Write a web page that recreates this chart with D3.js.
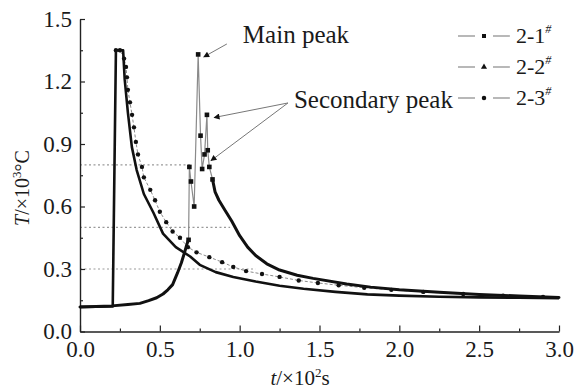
<!DOCTYPE html>
<html>
<head>
<meta charset="utf-8">
<script src="https://cdn.jsdelivr.net/npm/d3@7"></script>
<style>
  body { margin: 0; background: #fff; }
  svg text { font-family: "Liberation Serif", "Times New Roman", serif; fill: #1a1a1a; }
</style>
</head>
<body>
<div id="chart"></div>
<script>
// tick values
const xTicks = [0, 0.5, 1.0, 1.5, 2.0, 2.5, 3.0];
const xMinor = [0.25, 0.75, 1.25, 1.75, 2.25, 2.75];
const yTicks = [0, 0.3, 0.6, 0.9, 1.2, 1.5];
const yMinor = [0.15, 0.45, 0.75, 1.05, 1.35];

// series 2-1# (delayed heating): slow rise, spikes, decay  [t, T]
const rise21 = [[0, 0.118], [0.1, 0.12], [0.2, 0.123], [0.3, 0.13], [0.375, 0.135], [0.43, 0.148],
  [0.48, 0.162], [0.52, 0.18], [0.55, 0.2], [0.58, 0.225], [0.61, 0.28], [0.635, 0.33],
  [0.655, 0.38], [0.67, 0.42], [0.68, 0.44]];
const spike21 = [[0.68, 0.44], [0.685, 0.79], [0.695, 0.72], [0.715, 0.6], [0.74, 1.33],
  [0.755, 0.94], [0.765, 0.78], [0.78, 0.85], [0.795, 1.04], [0.8, 0.87], [0.81, 0.79], [0.83, 0.73]];
const decay21 = [[0.83, 0.73], [0.846, 0.67], [0.87, 0.63], [0.91, 0.58], [0.95, 0.53], [1.0, 0.46],
  [1.05, 0.405], [1.1, 0.365], [1.17, 0.325], [1.25, 0.295], [1.36, 0.27], [1.46, 0.255],
  [1.67, 0.228], [1.82, 0.213], [2.0, 0.2], [2.25, 0.188], [2.5, 0.178], [2.75, 0.17], [3.0, 0.163]];

// series 2-2# (fast decay)
const s22 = [[0, 0.118], [0.1, 0.119], [0.2, 0.12], [0.205, 0.12], [0.225, 1.35], [0.27, 1.35],
  [0.28, 1.21], [0.30, 1.05], [0.325, 0.885], [0.355, 0.775], [0.40, 0.66], [0.46, 0.57],
  [0.52, 0.47], [0.60, 0.405], [0.69, 0.36], [0.75, 0.32], [0.85, 0.285], [0.96, 0.262],
  [1.1, 0.24], [1.25, 0.22], [1.4, 0.205], [1.6, 0.19], [1.8, 0.178], [2.0, 0.172],
  [2.25, 0.167], [2.5, 0.164], [2.75, 0.162], [3.0, 0.16]];

// series 2-3# (slower decay, circles)
const s23 = [[0.225, 1.35], [0.25, 1.35], [0.276, 1.31], [0.288, 1.27], [0.294, 1.22], [0.30, 1.16],
  [0.313, 1.10], [0.326, 1.04], [0.338, 0.98], [0.35, 0.91], [0.363, 0.85], [0.388, 0.79],
  [0.40, 0.74], [0.44, 0.68], [0.47, 0.63], [0.5, 0.575], [0.54, 0.525], [0.58, 0.48],
  [0.626, 0.45], [0.676, 0.405], [0.73, 0.38], [0.81, 0.357], [0.89, 0.333], [0.96, 0.31],
  [1.04, 0.29], [1.14, 0.276], [1.25, 0.262], [1.37, 0.245], [1.49, 0.233], [1.62, 0.222],
  [1.78, 0.21], [1.95, 0.2], [2.15, 0.19], [2.4, 0.18], [2.65, 0.172], [2.9, 0.166]];

// dotted reference levels and where they stop
const refLevels = [0.8, 0.5, 0.3];
const refEnds = [0.69, 0.94, 1.1];

const legendNames = ["2-1", "2-2", "2-3"];
const legendMarks = ["square", "triangle", "circle"];

// annotations in data units: label position, arrow tips
const mainLabel = { t: 1.02, T: 1.385, text: "Main peak" };
const mainTip = [0.775, 1.318];
const secLabel = { t: 1.34, T: 1.073, text: "Secondary peak" };
const secTips = [[0.84, 1.027], [0.82, 0.82]];

const FONT = "'Liberation Serif', 'Times New Roman', serif";
const W = 576, H = 389;
const svg = d3.select("#chart").append("svg")
  .attr("width", W).attr("height", H)
  .style("font-family", FONT);

const x = d3.scaleLinear().domain([0, 3]).range([80, 559]);
const y = d3.scaleLinear().domain([0, 1.5]).range([331.5, 19]);

const line = d3.line().x(d => x(d[0])).y(d => y(d[1]));

// reference dotted lines
svg.selectAll(".ref")
  .data(refLevels)
  .enter().append("line")
  .attr("x1", x(0)).attr("x2", (d, i) => x(refEnds[i]))
  .attr("y1", d => y(d)).attr("y2", d => y(d))
  .attr("stroke", "#9a9a9a").attr("stroke-width", 1.2)
  .attr("stroke-dasharray", "2,2.5");

// axes
const fmt = d3.format(".1f");
svg.append("g")
  .attr("transform", `translate(0,${y(0)})`)
  .call(d3.axisBottom(x).tickValues(xTicks).tickFormat(fmt).tickSize(-6).tickSizeOuter(0).tickPadding(9));
svg.append("g")
  .attr("transform", `translate(0,${y(0)})`)
  .call(d3.axisBottom(x).tickValues(xMinor).tickFormat("").tickSize(-3).tickSizeOuter(0))
  .select(".domain").remove();
svg.append("g")
  .attr("transform", `translate(${x(0)},0)`)
  .call(d3.axisLeft(y).tickValues(yTicks).tickFormat(fmt).tickSize(-5).tickSizeOuter(0).tickPadding(8));
svg.append("g")
  .attr("transform", `translate(${x(0)},0)`)
  .call(d3.axisLeft(y).tickValues(yMinor).tickFormat("").tickSize(-3).tickSizeOuter(0))
  .select(".domain").remove();

svg.selectAll("g").attr("font-family", FONT);
svg.selectAll(".domain").attr("stroke", "#222").attr("stroke-width", 1.4);
svg.selectAll(".tick line").attr("stroke", "#222").attr("stroke-width", 1.2);
svg.selectAll(".tick text")
  .style("font-size", "23px")
  .attr("fill", "#1a1a1a");

// series 2-3#: dashed gray line with circles
svg.append("path")
  .datum(s23)
  .attr("d", line)
  .attr("fill", "none").attr("stroke", "#8a8a8a").attr("stroke-width", 1)
  .attr("stroke-dasharray", "3,2");
svg.selectAll(".c23")
  .data(s23)
  .enter().append("circle")
  .attr("cx", d => x(d[0])).attr("cy", d => y(d[1]))
  .attr("r", 2.2).attr("fill", "#111");

// series 2-2#: thick black
svg.append("path")
  .datum(s22)
  .attr("d", line)
  .attr("fill", "none").attr("stroke", "#111").attr("stroke-width", 2.6)
  .attr("stroke-linejoin", "round");

// series 2-1#: thick rise/decay, thin spikes with squares
svg.append("path")
  .datum(spike21)
  .attr("d", line)
  .attr("fill", "none").attr("stroke", "#8a8a8a").attr("stroke-width", 1.2);
[rise21, decay21].forEach(seg => {
  svg.append("path")
    .datum(seg)
    .attr("d", line)
    .attr("fill", "none").attr("stroke", "#111").attr("stroke-width", 3)
    .attr("stroke-linejoin", "round").attr("stroke-linecap", "round");
});
svg.selectAll(".sq21")
  .data(spike21)
  .enter().append("rect")
  .attr("x", d => x(d[0]) - 2.3).attr("y", d => y(d[1]) - 2.3)
  .attr("width", 4.6).attr("height", 4.6)
  .attr("fill", "#111");

// annotations
svg.append("defs").append("marker")
  .attr("id", "ah")
  .attr("viewBox", "0 0 10 10").attr("refX", 9).attr("refY", 5)
  .attr("markerWidth", 9).attr("markerHeight", 6).attr("orient", "auto")
  .attr("markerUnits", "userSpaceOnUse")
  .append("path").attr("d", "M0,0 L10,5 L0,10 Z").attr("fill", "#111");

svg.append("text")
  .attr("x", x(mainLabel.t)).attr("y", y(mainLabel.T))
  .style("font-size", "25px").text(mainLabel.text);
svg.append("line")
  .attr("x1", x(mainLabel.t) - 16).attr("y1", y(mainLabel.T) + 1)
  .attr("x2", x(mainTip[0])).attr("y2", y(mainTip[1]))
  .attr("stroke", "#777").attr("stroke-width", 1).attr("marker-end", "url(#ah)");

svg.append("text")
  .attr("x", x(secLabel.t)).attr("y", y(secLabel.T))
  .style("font-size", "25px").text(secLabel.text);
secTips.forEach(tip => {
  svg.append("line")
    .attr("x1", x(secLabel.t) - 6).attr("y1", y(secLabel.T) - 5)
    .attr("x2", x(tip[0])).attr("y2", y(tip[1]))
    .attr("stroke", "#777").attr("stroke-width", 1).attr("marker-end", "url(#ah)");
});

// axis titles
const yt = svg.append("text")
  .attr("transform", "translate(29,188) rotate(-90)")
  .attr("text-anchor", "middle")
  .style("font-size", "20px");
yt.append("tspan").style("font-style", "italic").text("T");
yt.append("tspan").text("/×10");
yt.append("tspan").attr("dy", -8).style("font-size", "13px").text("3");
yt.append("tspan").attr("dy", 8).text("°C");

const xt = svg.append("text")
  .attr("x", 300).attr("y", 385)
  .attr("text-anchor", "middle")
  .style("font-size", "21px");
xt.append("tspan").style("font-style", "italic").text("t");
xt.append("tspan").text("/×10");
xt.append("tspan").attr("dy", -8).style("font-size", "13px").text("2");
xt.append("tspan").attr("dy", 8).text("s");

// legend
const lg = svg.append("g");
const rowY = d => 36 + d * 31;
legendNames.forEach((name, i) => {
  const g = lg.append("g").attr("transform", `translate(0,${rowY(i)})`);
  g.append("line").attr("x1", 458).attr("x2", 475).attr("stroke", "#888").attr("stroke-width", 1.2);
  g.append("line").attr("x1", 493).attr("x2", 510).attr("stroke", "#888").attr("stroke-width", 1.2);
  const sym = legendMarks[i] === "square" ? d3.symbolSquare
    : legendMarks[i] === "triangle" ? d3.symbolTriangle : d3.symbolCircle;
  g.append("path").attr("transform", "translate(484,0)")
    .attr("d", d3.symbol().type(sym).size(16)).attr("fill", "#111");
  const t = g.append("text").attr("x", 516).attr("y", 7).style("font-size", "22px");
  t.append("tspan").text(name);
  t.append("tspan").attr("dy", -10).style("font-size", "12px").style("font-style", "italic").text("#");
});
</script>
</body>
</html>
